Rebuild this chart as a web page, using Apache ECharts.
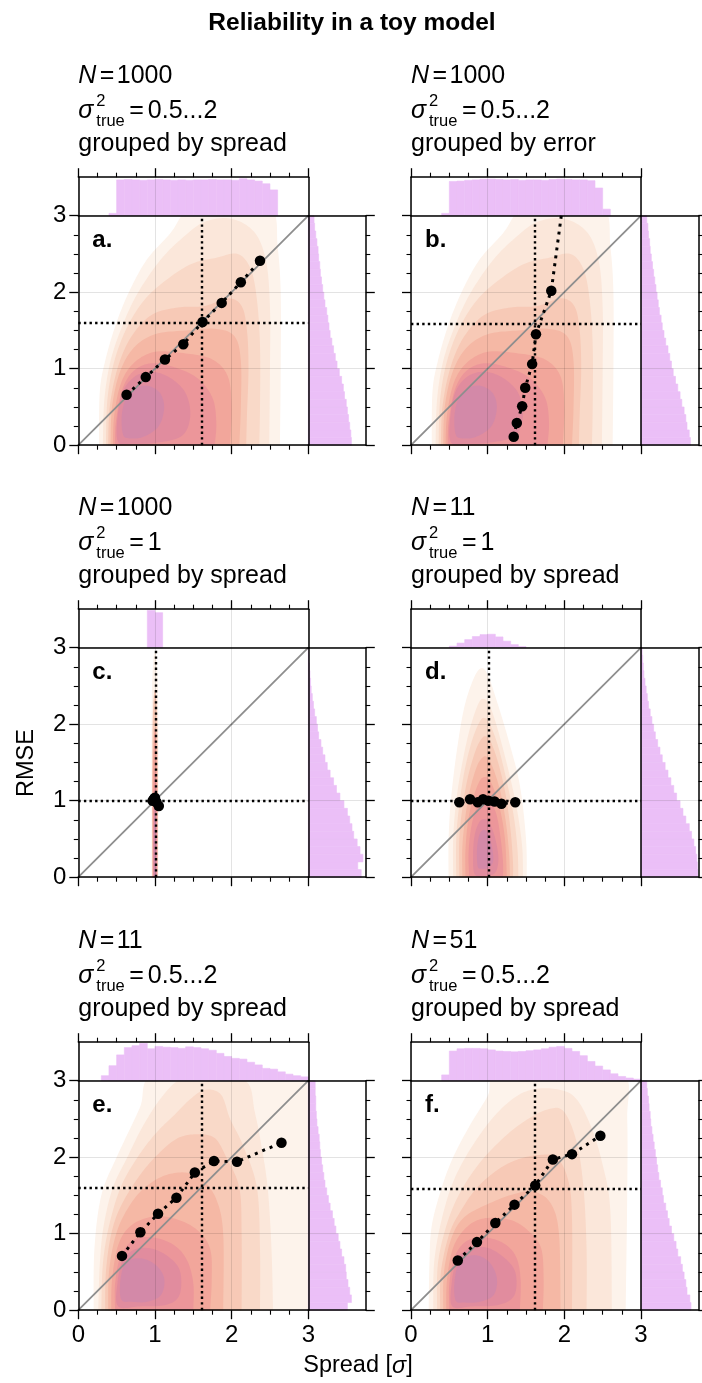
<!DOCTYPE html>
<html><head><meta charset="utf-8">
<script src="https://cdn.jsdelivr.net/npm/echarts@6/dist/echarts.min.js"></script>
<style>html,body{margin:0;padding:0;background:#fff}#c{width:702px;height:1383px}</style>
</head><body><div id="c"></div>
<script>
// ---------------- data ----------------
const titleText = 'Reliability in a toy model';
const xAxisTitle = 'Spread [';
const yAxisTitle = 'RMSE';
const axisMin = 0, axisMax = 3, axisStep = 1;
const panelLetters = ['a.', 'b.', 'c.', 'd.', 'e.', 'f.'];
const panelN = ['1000', '1000', '1000', '11', '11', '51'];
const panelSigma = ['0.5...2', '0.5...2', '1', '1', '0.5...2', '0.5...2'];
const panelGroup = ['grouped by spread', 'grouped by error', 'grouped by spread', 'grouped by spread', 'grouped by spread', 'grouped by spread'];
const meanSpread = [1.61, 1.61, 1.01, 1.01, 1.61, 1.61];
const meanRmse = [1.60, 1.59, 1.00, 1.00, 1.60, 1.59];
const diagonal = [[0, 0], [3, 3]];

const pointsA = [[0.63,0.66],[0.88,0.89],[1.13,1.12],[1.37,1.32],[1.62,1.61],[1.87,1.86],[2.12,2.13],[2.37,2.41]];
const pointsB = [[1.34,0.11],[1.38,0.29],[1.45,0.51],[1.49,0.75],[1.58,1.06],[1.63,1.45],[1.83,2.02],[2.04,3.6]];
const pointsC = [[0.97,1.0],[0.98,1.01],[0.99,1.03],[1.0,1.0],[1.0,1.04],[1.01,0.99],[1.02,0.98],[1.05,0.93]];
const pointsD = [[0.63,0.98],[0.77,1.02],[0.87,0.98],[0.94,1.02],[1.01,1.0],[1.09,0.99],[1.18,0.96],[1.36,0.98]];
const pointsE = [[0.57,0.71],[0.81,1.02],[1.04,1.26],[1.28,1.47],[1.52,1.80],[1.77,1.95],[2.07,1.94],[2.65,2.19]];
const pointsF = [[0.61,0.65],[0.86,0.89],[1.10,1.14],[1.35,1.38],[1.62,1.63],[1.85,1.97],[2.10,2.04],[2.47,2.28]];

const binW = 0.1;
const topHistStart = [0.4, 0.4, 0.9, 0.5, 0.3, 0.4];
const topA = [0.06,0.93,0.94,0.93,0.92,0.93,0.94,0.93,0.92,0.93,0.92,0.93,0.93,0.94,0.93,0.93,0.92,0.96,0.93,0.90,0.83,0.67];
const topB = [0.06,0.89,0.90,0.92,0.93,0.95,0.95,0.94,0.93,0.94,0.92,0.93,0.93,0.92,0.94,0.95,0.94,0.93,0.93,0.91,0.72,0.17];
const topC = [0.97,0.91];
const topD = [0.04,0.12,0.21,0.29,0.34,0.35,0.28,0.17,0.08,0.03];
const topE = [0.13,0.39,0.67,0.86,0.91,0.97,0.83,0.89,0.87,0.86,0.84,0.88,0.86,0.83,0.79,0.71,0.63,0.58,0.56,0.48,0.41,0.32,0.30,0.23,0.17,0.13,0.10];
const topF = [0.15,0.77,0.83,0.84,0.84,0.83,0.80,0.77,0.76,0.75,0.76,0.78,0.80,0.83,0.87,0.89,0.84,0.76,0.65,0.50,0.38,0.28,0.18,0.11,0.07,0.04];

// right histograms: bins of 0.1 from RMSE 0 to 3
const rightA = [0.75,0.74,0.72,0.70,0.68,0.66,0.63,0.61,0.58,0.54,0.50,0.47,0.44,0.41,0.38,0.36,0.34,0.32,0.29,0.27,0.25,0.23,0.21,0.20,0.18,0.17,0.15,0.13,0.11,0.10];
const rightB = [0.86,0.84,0.80,0.78,0.75,0.71,0.68,0.64,0.60,0.56,0.53,0.50,0.47,0.43,0.40,0.37,0.35,0.32,0.30,0.28,0.26,0.24,0.22,0.20,0.18,0.16,0.15,0.13,0.12,0.10];
const rightC = [0.92,0.86,0.95,0.90,0.85,0.79,0.76,0.72,0.68,0.62,0.55,0.49,0.44,0.38,0.33,0.29,0.25,0.22,0.18,0.16,0.14,0.11,0.09,0.07,0.05,0.04,0.03,0.02,0.01,0.005];
const rightD = [0.99,0.98,0.97,0.95,0.92,0.88,0.84,0.78,0.73,0.68,0.62,0.57,0.52,0.47,0.42,0.37,0.33,0.29,0.25,0.22,0.19,0.16,0.13,0.11,0.09,0.07,0.05,0.04,0.03,0.02];
const rightE = [0.68,0.75,0.72,0.69,0.66,0.65,0.62,0.58,0.55,0.52,0.48,0.45,0.42,0.38,0.35,0.32,0.29,0.27,0.25,0.23,0.21,0.20,0.19,0.17,0.15,0.14,0.13,0.13,0.12,0.12];
const rightF = [0.87,0.85,0.80,0.78,0.75,0.72,0.69,0.64,0.61,0.57,0.53,0.49,0.46,0.43,0.39,0.37,0.34,0.31,0.29,0.27,0.25,0.23,0.21,0.19,0.17,0.16,0.14,0.13,0.11,0.10];

// density contour outlines (spread, RMSE), outer to inner
const contoursAB = [
 [[0.27,0],[0.28,0.7],[0.35,1.1],[0.48,1.55],[0.65,1.98],[0.89,2.42],[1.2,2.77],[1.45,3.1],[2.0,3.3],[2.52,3.1],[2.6,2.6],[2.64,2.0],[2.64,1.0],[2.63,0]],
 [[0.32,0],[0.34,0.6],[0.42,1.1],[0.57,1.55],[0.77,1.98],[1.07,2.42],[1.37,2.72],[1.65,2.92],[2.0,2.96],[2.3,2.78],[2.45,2.4],[2.5,1.8],[2.5,1.0],[2.49,0]],
 [[0.36,0],[0.38,0.6],[0.47,1.1],[0.64,1.55],[0.88,1.92],[1.2,2.2],[1.5,2.38],[1.8,2.45],[2.08,2.5],[2.25,2.3],[2.33,1.9],[2.37,1.3],[2.37,0.5],[2.36,0]],
 [[0.39,0],[0.41,0.5],[0.51,1.0],[0.68,1.4],[0.95,1.7],[1.3,1.8],[1.65,1.82],[1.95,1.92],[2.13,1.82],[2.2,1.5],[2.22,1.0],[2.2,0.4],[2.19,0]],
 [[0.42,0],[0.44,0.5],[0.54,0.95],[0.72,1.27],[1.0,1.45],[1.4,1.5],[1.8,1.52],[2.04,1.42],[2.12,1.1],[2.12,0.5],[2.1,0]],
 [[0.45,0],[0.47,0.4],[0.56,0.82],[0.73,1.08],[1.0,1.22],[1.4,1.2],[1.75,1.12],[1.95,0.9],[2.0,0.5],[1.98,0]],
 [[0.48,0],[0.49,0.3],[0.57,0.72],[0.72,0.97],[0.95,1.07],[1.25,1.02],[1.55,0.88],[1.75,0.62],[1.8,0.3],[1.78,0]],
 [[0.52,0.04],[0.51,0.35],[0.58,0.7],[0.74,0.9],[0.96,0.96],[1.2,0.88],[1.4,0.68],[1.46,0.38],[1.35,0.12],[1.0,0.03],[0.7,0.02]],
 [[0.58,0.15],[0.57,0.42],[0.65,0.66],[0.85,0.78],[1.05,0.7],[1.12,0.5],[1.05,0.25],[0.85,0.11],[0.66,0.09]]
];
const contoursC = [
 [[0.955,0],[0.955,1.5],[0.96,2.4],[0.98,2.85],[1.0,2.93],[1.02,2.85],[1.04,2.4],[1.045,1.5],[1.045,0]],
 [[0.963,0],[0.963,1.4],[0.975,2.2],[1.0,2.45],[1.025,2.2],[1.037,1.4],[1.037,0]],
 [[0.97,0],[0.97,1.2],[0.985,1.8],[1.0,1.95],[1.015,1.8],[1.03,1.2],[1.03,0]],
 [[0.976,0],[0.976,0.9],[0.99,1.3],[1.0,1.4],[1.01,1.3],[1.024,0.9],[1.024,0]],
 [[0.982,0],[0.982,0.5],[0.992,0.85],[1.0,0.9],[1.008,0.85],[1.018,0.5],[1.018,0]]
];
const contoursD = [
 [[0.49,0],[0.49,0.5],[0.52,1.0],[0.59,1.6],[0.69,2.2],[0.81,2.58],[0.91,2.73],[1.0,2.65],[1.12,2.3],[1.27,1.8],[1.42,1.2],[1.5,0.5],[1.51,0]],
 [[0.55,0],[0.55,0.5],[0.59,1.0],[0.67,1.5],[0.77,1.95],[0.88,2.27],[0.95,2.33],[1.03,2.24],[1.14,1.9],[1.27,1.4],[1.38,0.9],[1.45,0.4],[1.46,0]],
 [[0.59,0],[0.59,0.5],[0.63,0.95],[0.7,1.4],[0.8,1.8],[0.9,2.04],[0.96,2.08],[1.03,2.0],[1.14,1.7],[1.25,1.25],[1.34,0.8],[1.39,0.35],[1.4,0]],
 [[0.63,0],[0.63,0.5],[0.67,0.9],[0.74,1.3],[0.84,1.65],[0.92,1.81],[0.98,1.84],[1.05,1.75],[1.15,1.45],[1.24,1.05],[1.3,0.6],[1.33,0.2],[1.33,0]],
 [[0.67,0],[0.67,0.4],[0.71,0.8],[0.77,1.15],[0.86,1.45],[0.94,1.57],[1.0,1.56],[1.08,1.4],[1.17,1.1],[1.24,0.7],[1.28,0.3],[1.29,0]],
 [[0.71,0],[0.71,0.35],[0.74,0.7],[0.8,1.0],[0.89,1.25],[0.96,1.31],[1.02,1.28],[1.1,1.1],[1.18,0.8],[1.23,0.45],[1.25,0]],
 [[0.76,0],[0.75,0.3],[0.78,0.62],[0.84,0.87],[0.92,1.02],[0.98,1.05],[1.04,1.0],[1.12,0.8],[1.17,0.5],[1.2,0.2],[1.2,0]],
 [[0.83,0.04],[0.81,0.3],[0.83,0.55],[0.89,0.72],[0.96,0.76],[1.03,0.7],[1.1,0.5],[1.14,0.25],[1.1,0.06],[0.97,0.02]],
 [[0.87,0.14],[0.86,0.35],[0.89,0.55],[0.95,0.62],[1.01,0.56],[1.06,0.38],[1.07,0.2],[1.0,0.12],[0.92,0.11]]
];
const contoursE = [
 [[0.2,0],[0.21,0.8],[0.3,1.5],[0.5,2.0],[0.8,2.64],[0.98,3.1],[2.0,3.4],[3.2,3.2],[3.2,0]],
 [[0.26,0],[0.28,0.6],[0.33,1.1],[0.45,1.6],[0.63,1.98],[0.85,2.42],[1.1,2.8],[1.35,3.02],[1.8,3.05],[2.2,2.98],[2.3,2.6],[2.38,2.2],[2.47,1.6],[2.52,0.8],[2.54,0]],
 [[0.3,0],[0.32,0.6],[0.4,1.1],[0.55,1.6],[0.76,1.98],[1.0,2.3],[1.25,2.55],[1.45,2.75],[1.65,2.88],[1.86,2.82],[1.98,2.5],[2.15,2.15],[2.33,1.6],[2.37,0.8],[2.37,0]],
 [[0.35,0],[0.36,0.5],[0.43,1.0],[0.56,1.37],[0.8,1.76],[1.05,2.05],[1.3,2.25],[1.55,2.3],[1.78,2.25],[1.93,2.0],[2.1,1.6],[2.13,1.0],[2.13,0]],
 [[0.39,0],[0.4,0.5],[0.48,0.95],[0.61,1.27],[0.82,1.56],[1.1,1.75],[1.4,1.8],[1.62,1.7],[1.8,1.45],[1.89,1.0],[1.89,0]],
 [[0.43,0],[0.44,0.4],[0.52,0.85],[0.68,1.1],[0.95,1.22],[1.25,1.2],[1.55,1.05],[1.72,0.8],[1.74,0.4],[1.72,0]],
 [[0.48,0],[0.48,0.35],[0.55,0.7],[0.72,0.92],[0.98,0.95],[1.25,0.85],[1.42,0.65],[1.5,0.35],[1.5,0]],
 [[0.52,0.05],[0.51,0.35],[0.58,0.65],[0.75,0.8],[0.98,0.8],[1.2,0.68],[1.33,0.5],[1.32,0.2],[1.15,0.07],[0.8,0.05]],
 [[0.56,0.14],[0.55,0.4],[0.62,0.62],[0.8,0.68],[1.0,0.6],[1.12,0.42],[1.08,0.2],[0.9,0.11],[0.7,0.11]]
];
const contoursF = [
 [[0.23,0],[0.24,0.6],[0.27,1.1],[0.4,1.6],[0.55,2.0],[0.77,2.42],[1.0,2.8],[1.13,3.1],[2.0,3.3],[2.77,3.1],[2.82,2.5],[2.82,1.5],[2.8,0]],
 [[0.29,0],[0.3,0.6],[0.38,1.1],[0.52,1.6],[0.71,2.0],[0.99,2.42],[1.25,2.7],[1.5,2.86],[1.8,2.9],[2.12,2.8],[2.34,2.42],[2.5,1.9],[2.6,1.3],[2.62,0]],
 [[0.34,0],[0.35,0.6],[0.46,1.1],[0.62,1.5],[0.86,1.88],[1.15,2.2],[1.45,2.45],[1.77,2.62],[1.99,2.6],[2.16,2.2],[2.25,1.6],[2.29,0.8],[2.29,0]],
 [[0.38,0],[0.39,0.5],[0.5,1.0],[0.65,1.3],[0.86,1.6],[1.15,1.85],[1.42,1.98],[1.68,2.03],[1.9,2.0],[2.05,1.7],[2.1,1.2],[2.1,0]],
 [[0.42,0],[0.43,0.5],[0.53,0.95],[0.7,1.22],[1.03,1.4],[1.35,1.52],[1.6,1.55],[1.82,1.4],[1.93,1.0],[1.95,0]],
 [[0.46,0],[0.47,0.4],[0.55,0.82],[0.72,1.08],[0.95,1.2],[1.3,1.18],[1.55,1.02],[1.7,0.8],[1.73,0.4],[1.72,0]],
 [[0.5,0],[0.5,0.35],[0.57,0.7],[0.72,0.9],[0.95,0.95],[1.2,0.88],[1.37,0.7],[1.43,0.4],[1.42,0]],
 [[0.54,0.05],[0.53,0.35],[0.6,0.66],[0.75,0.8],[0.98,0.82],[1.2,0.7],[1.36,0.5],[1.35,0.2],[1.15,0.07],[0.8,0.05]],
 [[0.58,0.13],[0.57,0.4],[0.64,0.64],[0.83,0.72],[1.02,0.63],[1.12,0.42],[1.08,0.2],[0.9,0.11],[0.7,0.1]]
];
const contourColors = ['#fdf3eb','#fbe7da','#f9d9c8','#f7c9b6','#f5b8a5','#f2a69b','#ec969a','#e18c9e','#d389a8'];
const levelsFull = [0,1,2,3,4,5,6,7,8];
const levelsC = [0,3,5,6,8];

// ---------------- layout / style ----------------
const FONT = "'Liberation Sans', Arial, Helvetica, sans-serif";
const histColor = '#ebbff7';
const colLeft = [78.3, 411];
const rowTop = [215.7, 647.7, 1080.7];
const MW = 230, MH = 229.5, TH = 38.5, RW = 57.5;

const groupPoints = [pointsA, pointsB, pointsC, pointsD, pointsE, pointsF];
const topHists = [topA, topB, topC, topD, topE, topF];
const rightHists = [rightA, rightB, rightC, rightD, rightE, rightF];
const contourSets = [contoursAB, contoursAB, contoursC, contoursD, contoursE, contoursF];
const contourLevels = [levelsFull, levelsFull, levelsC, levelsFull, levelsFull, levelsFull];

function spline(pts, closed, seg) {
  const n = pts.length, out = [];
  const get = i => closed ? pts[((i % n) + n) % n] : pts[Math.max(0, Math.min(n - 1, i))];
  const last = closed ? n : n - 1;
  for (let i = 0; i < last; i++) {
    const p0 = get(i - 1), p1 = get(i), p2 = get(i + 1), p3 = get(i + 2);
    for (let s = 0; s < seg; s++) {
      const t = s / seg, t2 = t * t, t3 = t2 * t;
      out.push([0, 1].map(k => 0.5 * (2 * p1[k] + (-p0[k] + p2[k]) * t +
        (2 * p0[k] - 5 * p1[k] + 4 * p2[k] - p3[k]) * t2 + (-p0[k] + 3 * p1[k] - 3 * p2[k] + p3[k]) * t3)));
    }
  }
  if (!closed) out.push(pts[n - 1]);
  return out;
}
function clipPoly(poly, x0, y0, x1, y1) {
  const edges = [
    [p => p[0] >= x0, (a, b) => { const t = (x0 - a[0]) / (b[0] - a[0]); return [x0, a[1] + t * (b[1] - a[1])]; }],
    [p => p[0] <= x1, (a, b) => { const t = (x1 - a[0]) / (b[0] - a[0]); return [x1, a[1] + t * (b[1] - a[1])]; }],
    [p => p[1] >= y0, (a, b) => { const t = (y0 - a[1]) / (b[1] - a[1]); return [a[0] + t * (b[0] - a[0]), y0]; }],
    [p => p[1] <= y1, (a, b) => { const t = (y1 - a[1]) / (b[1] - a[1]); return [a[0] + t * (b[0] - a[0]), y1]; }]
  ];
  let out = poly;
  for (const [inside, inter] of edges) {
    const inp = out; out = [];
    if (!inp.length) break;
    for (let i = 0; i < inp.length; i++) {
      const cur = inp[i], prev = inp[(i + inp.length - 1) % inp.length];
      const ci = inside(cur), pi = inside(prev);
      if (ci) { if (!pi) out.push(inter(prev, cur)); out.push(cur); }
      else if (pi) out.push(inter(prev, cur));
    }
  }
  return out;
}

function axis(o) {
  return Object.assign({
    type: 'value', min: axisMin, max: axisMax, interval: axisStep, z: 5,
    axisLine: { show: true, onZero: false, lineStyle: { color: '#000', width: 1.5 } },
    axisTick: { show: false }, minorTick: { show: false }, axisLabel: { show: false },
    splitLine: { show: false }, minorSplitLine: { show: false }
  }, o);
}
const tickOpts = {
  axisTick: { show: true, length: 9, lineStyle: { color: '#000', width: 1.3 } },
  minorTick: { show: true, splitNumber: 4, length: 4.5, lineStyle: { color: '#000', width: 1.1 } }
};
const splitOpts = { splitLine: { show: true, lineStyle: { color: 'rgba(0,0,0,0.11)', width: 1 } } };
function labelOpts(show, margin) {
  return { axisLabel: { show, fontSize: 24, fontFamily: FONT, color: '#000', margin } };
}

const grids = [], xAxes = [], yAxes = [], series = [], graphics = [];
function txt(x, y, text, fs, extra) {
  return { type: 'text', x, y, silent: true, style: Object.assign({ text, fontSize: fs, fontFamily: FONT, fill: '#000', align: 'left', verticalAlign: 'middle' }, extra || {}) };
}

for (let k = 0; k < 6; k++) {
  const col = k % 2, row = Math.floor(k / 2);
  const L = colLeft[col], T = rowTop[row];
  const g = grids.length;
  grids.push({ left: L, top: T, width: MW, height: MH });
  grids.push({ left: L, top: T - TH, width: MW, height: TH });
  grids.push({ left: L + MW, top: T, width: RW, height: MH });

  const xm = xAxes.length;
  xAxes.push(axis(Object.assign({ gridIndex: g, position: 'bottom' }, tickOpts, splitOpts, labelOpts(row === 2, 13))));
  xAxes.push(axis({ gridIndex: g, position: 'top' }));
  const xt = xAxes.length;
  xAxes.push(axis(Object.assign({ gridIndex: g + 1, position: 'top' }, tickOpts, splitOpts)));
  const xr = xAxes.length;
  xAxes.push(axis({ gridIndex: g + 2, position: 'bottom', min: 0, max: 1, interval: 1 }));
  xAxes.push(axis({ gridIndex: g + 2, position: 'top', min: 0, max: 1, interval: 1 }));

  const ym = yAxes.length;
  yAxes.push(axis(Object.assign({ gridIndex: g, position: 'left' }, tickOpts, splitOpts, labelOpts(col === 0, 12))));
  yAxes.push(axis({ gridIndex: g, position: 'right' }));
  const yt = yAxes.length;
  yAxes.push(axis({ gridIndex: g + 1, position: 'left', min: 0, max: 1, interval: 1 }));
  yAxes.push(axis({ gridIndex: g + 1, position: 'right', min: 0, max: 1, interval: 1 }));
  const yr = yAxes.length;
  yAxes.push(axis(Object.assign({ gridIndex: g + 2, position: 'right' }, tickOpts, splitOpts)));

  // density contours
  const polys = contourSets[k], lv = contourLevels[k];
  series.push({
    type: 'custom', xAxisIndex: xm, yAxisIndex: ym, silent: true, z: 1,
    data: polys.map((_, i) => [i, 0]),
    renderItem: (params, api) => {
      const i = api.value(0), poly = polys[i];
      const pix = poly.map(p => api.coord(p));
      const sm = spline(pix, poly[0][1] > 0, 12);
      const cs = params.coordSys;
      const pts = clipPoly(sm, cs.x, cs.y, cs.x + cs.width, cs.y + cs.height);
      return { type: 'polygon', z2: i, shape: { points: pts }, style: { fill: contourColors[lv[i]] } };
    }
  });
  // diagonal
  series.push({ type: 'line', xAxisIndex: xm, yAxisIndex: ym, data: diagonal, symbol: 'none', silent: true, z: 3,
    lineStyle: { color: '#8e8e8e', width: 1.8 } });
  // mean lines
  series.push({ type: 'line', xAxisIndex: xm, yAxisIndex: ym, data: [], silent: true, z: 4,
    markLine: { silent: true, symbol: ['none', 'none'], label: { show: false },
      lineStyle: { color: '#000', width: 2.4, type: [2.4, 3.2] },
      emphasis: { disabled: true },
      data: [{ xAxis: meanSpread[k] }, { yAxis: meanRmse[k] }] } });
  // grouped points
  series.push({ type: 'line', xAxisIndex: xm, yAxisIndex: ym, data: groupPoints[k], silent: true, z: 6,
    symbol: 'circle', symbolSize: 10.5, showAllSymbol: true,
    itemStyle: { color: '#000' }, lineStyle: { color: '#000', width: 3, type: [3, 5] } });
  // top histogram
  const tv = topHists[k], ts = topHistStart[k];
  series.push({
    type: 'custom', xAxisIndex: xt, yAxisIndex: yt, silent: true, z: 2,
    data: tv.map((v, i) => [Math.round((ts + i * binW) * 100) / 100, v]),
    renderItem: (params, api) => {
      const x0 = api.value(0), v = api.value(1);
      const a = api.coord([x0, 0]), b = api.coord([x0 + binW, v]);
      return { type: 'rect', shape: { x: a[0], y: b[1], width: b[0] - a[0], height: a[1] - b[1] },
        style: { fill: histColor, stroke: histColor, lineWidth: 0.6 } };
    }
  });
  // right histogram
  const rv = rightHists[k];
  series.push({
    type: 'custom', xAxisIndex: xr, yAxisIndex: yr, silent: true, z: 2,
    data: rv.map((v, i) => [v, Math.round(i * binW * 100) / 100]),
    renderItem: (params, api) => {
      const v = api.value(0), y0 = api.value(1);
      const a = api.coord([0, y0]), b = api.coord([v, y0 + binW]);
      return { type: 'rect', shape: { x: a[0], y: b[1], width: b[0] - a[0], height: a[1] - b[1] },
        style: { fill: histColor, stroke: histColor, lineWidth: 0.6 } };
    }
  });

  // texts
  const fs = 25, sub = 16.5;
  graphics.push(txt(L + 14, T + 24.3, panelLetters[k], 24, { fontWeight: 'bold' }));
  const b1 = T - 130.7, b2 = T - 95.7, b3 = T - 63;
  graphics.push(txt(L, b1 - 8.7, 'N', fs, { fontStyle: 'italic' }));
  graphics.push(txt(L + 21.5, b1 - 8.7, '=', fs));
  graphics.push(txt(L + 38.5, b1 - 8.7, panelN[k], fs));
  graphics.push(txt(L, b2 - 8.7, 'σ', fs, { fontStyle: 'italic' }));
  graphics.push(txt(L + 18, b2 - 19, '2', sub));
  graphics.push(txt(L + 18, b2 + 1, 'true', sub));
  graphics.push(txt(L + 51, b2 - 8.7, '=', fs));
  graphics.push(txt(L + 69.5, b2 - 8.7, panelSigma[k], fs));
  graphics.push(txt(L, b3 - 8.7, panelGroup[k], fs));
}

graphics.push(txt(352, 23.5, titleText, 24.5, { fontWeight: 'bold', align: 'center' }));
graphics.push({ type: 'text', x: 27, y: 763, rotation: Math.PI / 2, silent: true,
  style: { text: yAxisTitle, fontSize: 23.5, fontFamily: FONT, fill: '#000', align: 'center', verticalAlign: 'middle' } });
graphics.push({ type: 'text', x: 358, y: 1366, silent: true,
  style: { text: '{n|' + xAxisTitle + '}{i|σ}{n|]}', fontSize: 23.5, fontFamily: FONT, fill: '#000', align: 'center', verticalAlign: 'middle',
    rich: { n: { fontSize: 23.5, fontFamily: FONT, fill: '#000' }, i: { fontSize: 23.5, fontFamily: FONT, fontStyle: 'italic', fill: '#000' } } } });

const chart = echarts.init(document.getElementById('c'), null, { renderer: 'canvas' });
chart.setOption({
  animation: false,
  backgroundColor: '#fff',
  grid: grids, xAxis: xAxes, yAxis: yAxes, series,
  graphic: { elements: graphics }
});
</script></body></html>
